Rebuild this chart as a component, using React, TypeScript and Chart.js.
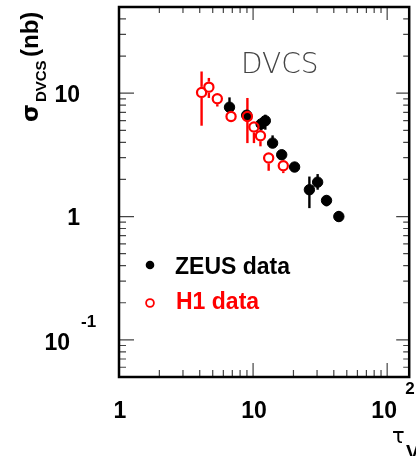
import React, { useEffect, useRef } from 'react';
import { Chart, registerables } from 'chart.js';

Chart.register(...registerables);

// ZEUS data (filled black)
const zeusX = [6.67, 8.96, 11.48, 12.34, 13.98, 16.35, 20.4, 26.3, 30.3, 35.3, 43.6];
const zeusY = [7.7, 6.63, 5.63, 5.98, 3.94, 3.17, 2.52, 1.65, 1.9, 1.35, 1.0];
const zeusLo = [6.95, 6.0, 5.0, 5.06, 3.59, 2.9, 2.4, 1.17, 1.65, 1.21, 0.91];
const zeusHi = [9.25, 7.3, 6.3, 6.7, 4.55, 3.45, 2.65, 2.11, 2.21, 1.48, 1.11];

// H1 data (open red)
const h1X = [4.13, 4.68, 5.41, 6.85, 9.07, 10.15, 11.35, 13.07, 16.8];
const h1Y = [10.15, 11.2, 9.02, 6.48, 6.48, 5.33, 4.52, 2.98, 2.58];
const h1Lo = [5.45, 9.15, 7.8, 5.9, 3.94, 3.94, 3.71, 2.35, 2.25];
const h1Hi = [15.0, 13.3, 9.9, 7.11, 9.15, 5.9, 5.06, 3.27, 2.85];

// axes
const xMin = 1;
const xMax = 146;
const yMin = 0.05;
const yMax = 50;
const xTickValues = [1, 10, 100];
const xTickLabels = ['1', '10', '10'];
const xTickExps = ['', '', '2'];
const yTickValues = [10, 1, 0.1];
const yTickLabels = ['10', '1', '10'];
const yTickExps = ['', '', '-1'];

const seriesNames = ['ZEUS data', 'H1 data'];
const seriesColors = ['#000000', '#ff0000'];
const panelLabel = 'DVCS';

const BOLD = '"Liberation Sans", Arial, sans-serif';

const decorPlugin = {
  id: 'decor',
  beforeDatasetsDraw(chart: any) {
    const ctx = chart.ctx;
    const xs = chart.scales.x;
    const ys = chart.scales.y;
    ctx.save();
    ctx.lineWidth = 2.4;
    // ZEUS error bars
    ctx.strokeStyle = seriesColors[0];
    zeusX.forEach((x, i) => {
      const px = xs.getPixelForValue(x);
      ctx.beginPath();
      ctx.moveTo(px, ys.getPixelForValue(zeusHi[i]));
      ctx.lineTo(px, ys.getPixelForValue(zeusLo[i]));
      ctx.stroke();
    });
    // H1 error bars (stop at marker edge)
    ctx.strokeStyle = seriesColors[1];
    const r = 5.5;
    h1X.forEach((x, i) => {
      const px = xs.getPixelForValue(x);
      const py = ys.getPixelForValue(h1Y[i]);
      const ph = ys.getPixelForValue(h1Hi[i]);
      const pl = ys.getPixelForValue(h1Lo[i]);
      if (ph < py - r) {
        ctx.beginPath();
        ctx.moveTo(px, ph);
        ctx.lineTo(px, py - r);
        ctx.stroke();
      }
      if (pl > py + r) {
        ctx.beginPath();
        ctx.moveTo(px, py + r);
        ctx.lineTo(px, pl);
        ctx.stroke();
      }
    });
    ctx.restore();
  },
  afterDraw(chart: any) {
    const ctx = chart.ctx;
    const xs = chart.scales.x;
    const ys = chart.scales.y;
    const { left, right, top, bottom } = chart.chartArea;
    ctx.save();

    // ticks
    ctx.strokeStyle = '#444';
    ctx.lineWidth = 1.2;
    for (let e = -2; e <= 2; e++) {
      for (let m = 1; m <= 9; m++) {
        const v = m * Math.pow(10, e);
        const major = m === 1;
        if (v >= xMin && v <= xMax) {
          const px = xs.getPixelForValue(v);
          const len = major ? 14 : 7;
          ctx.beginPath();
          ctx.moveTo(px, bottom);
          ctx.lineTo(px, bottom - len);
          ctx.moveTo(px, top);
          ctx.lineTo(px, top + (major ? 13 : 6));
          ctx.stroke();
        }
        if (v >= yMin && v <= yMax) {
          const py = ys.getPixelForValue(v);
          ctx.beginPath();
          ctx.moveTo(left, py);
          ctx.lineTo(left + (major ? 15 : 7), py);
          ctx.moveTo(right, py);
          ctx.lineTo(right - (major ? 13 : 6), py);
          ctx.stroke();
        }
      }
    }

    // frame
    ctx.strokeStyle = '#000';
    ctx.lineWidth = 2.5;
    ctx.strokeRect(left, top, right - left, bottom - top);

    // tick labels
    ctx.fillStyle = '#000';
    ctx.textBaseline = 'alphabetic';
    yTickValues.forEach((v, i) => {
      const py = ys.getPixelForValue(v);
      ctx.font = `bold 23px ${BOLD}`;
      if (yTickExps[i]) {
        ctx.textAlign = 'right';
        ctx.fillText(yTickLabels[i], left - 49, py + 10);
        ctx.font = `bold 17px ${BOLD}`;
        ctx.textAlign = 'left';
        ctx.fillText(yTickExps[i], left - 38, py - 13);
      } else {
        ctx.textAlign = 'right';
        ctx.fillText(yTickLabels[i], left - 39, py + 8.5);
      }
    });
    xTickValues.forEach((v, i) => {
      const px = xs.getPixelForValue(v);
      ctx.font = `bold 23px ${BOLD}`;
      ctx.textAlign = 'center';
      if (xTickExps[i]) {
        ctx.fillText(xTickLabels[i], px - 3, bottom + 41);
        ctx.font = `bold 17px ${BOLD}`;
        ctx.textAlign = 'left';
        ctx.fillText(xTickExps[i], px + 18, bottom + 17);
      } else {
        ctx.fillText(xTickLabels[i], px + 1, bottom + 41);
      }
    });

    // x title: tau_V
    ctx.textAlign = 'left';
    ctx.font = '21px "DejaVu Sans", sans-serif';
    ctx.fillText('τ', 392, 443);
    ctx.font = `bold 20px ${BOLD}`;
    ctx.fillText('V', 406, 459);

    // y title: sigma_DVCS (nb), rotated
    ctx.save();
    ctx.translate(38, 122);
    ctx.rotate(-Math.PI / 2);
    ctx.textAlign = 'left';
    ctx.font = 'bold 23px "DejaVu Sans", sans-serif';
    ctx.fillText('σ', 0, 0);
    const sw = ctx.measureText('σ').width;
    ctx.font = `bold 15px ${BOLD}`;
    ctx.fillText('DVCS', sw + 2, 8);
    ctx.font = `bold 24px ${BOLD}`;
    ctx.fillText('(nb)', 65, 0);
    ctx.restore();

    // panel label
    ctx.font = '200 28px "DejaVu Sans", sans-serif';
    ctx.fillStyle = '#444';
    ctx.textAlign = 'left';
    ctx.fillText(panelLabel, 241, 73);

    // legend
    ctx.fillStyle = seriesColors[0];
    ctx.beginPath();
    ctx.arc(150, 265, 4.3, 0, Math.PI * 2);
    ctx.fill();
    ctx.strokeStyle = seriesColors[1];
    ctx.lineWidth = 1.8;
    ctx.beginPath();
    ctx.arc(150, 303, 3.9, 0, Math.PI * 2);
    ctx.stroke();
    ctx.font = `bold 23px ${BOLD}`;
    ctx.fillStyle = seriesColors[0];
    ctx.fillText(seriesNames[0], 175, 274);
    ctx.fillStyle = seriesColors[1];
    ctx.fillText(seriesNames[1], 176, 308.5);

    ctx.restore();
  },
};

export default function App() {
  const ref = useRef<HTMLCanvasElement>(null);
  useEffect(() => {
    document.body.style.margin = '0';
    const canvas = ref.current!;
    const chart = new Chart(canvas, {
      type: 'scatter',
      data: {
        datasets: [
          {
            label: seriesNames[0],
            data: zeusX.map((x, i) => ({ x, y: zeusY[i] })),
            backgroundColor: seriesColors[0],
            borderColor: seriesColors[0],
            pointRadius: 5.2,
            borderWidth: 1,
            order: 2,
          },
          {
            label: seriesNames[1],
            data: h1X.map((x, i) => ({ x, y: h1Y[i] })),
            backgroundColor: 'rgba(255,255,255,0)',
            borderColor: seriesColors[1],
            pointRadius: 4.6,
            borderWidth: 2.2,
            order: 1,
          },
        ],
      },
      options: {
        responsive: false,
        animation: false,
        devicePixelRatio: 1,
        layout: { padding: { left: 119, right: 1, top: 7, bottom: 79 } },
        scales: {
          x: { type: 'logarithmic', min: xMin, max: xMax, display: false, bounds: 'data' },
          y: { type: 'logarithmic', min: yMin, max: yMax, display: false, bounds: 'data' },
        },
        plugins: { legend: { display: false }, tooltip: { enabled: false } },
      },
      plugins: [decorPlugin],
    } as any);
    return () => chart.destroy();
  }, []);
  return (
    <div style={{ width: 416, height: 456, background: '#fff' }}>
      <canvas ref={ref} width={416} height={456} style={{ display: 'block' }} />
    </div>
  );
}
